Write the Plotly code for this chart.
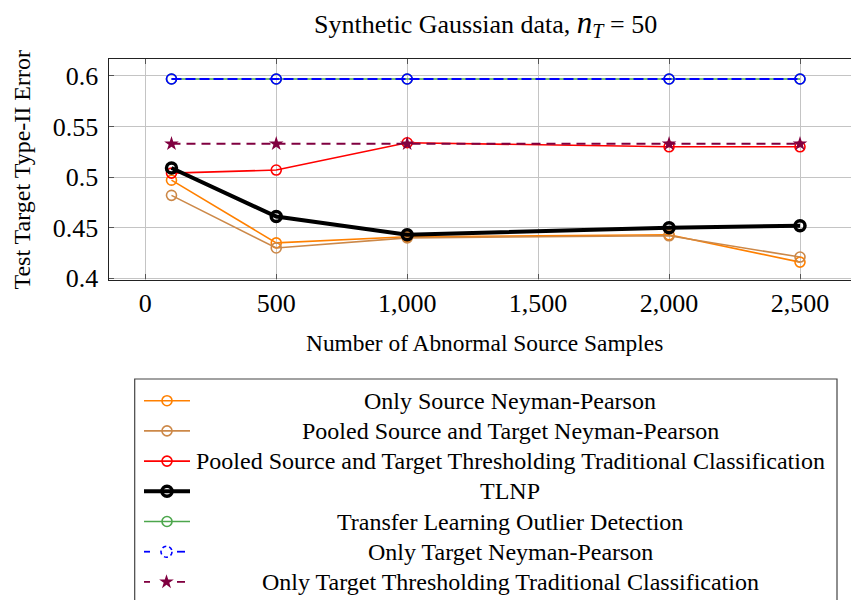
import plotly.graph_objects as go

# number of abnormal source samples
n_source = [100, 500, 1000, 2000, 2500]

only_source_np = [0.497, 0.435, 0.441, 0.443, 0.416]
pooled_np = [0.482, 0.430, 0.440, 0.442, 0.421]
pooled_thresh = [0.504, 0.507, 0.534, 0.530, 0.530]
tlnp = [0.509, 0.461, 0.443, 0.450, 0.452]
tl_outlier = [0.597, 0.597, 0.597, 0.597, 0.597]
only_target_np = [0.597, 0.597, 0.597, 0.597, 0.597]
only_target_thresh = [0.533, 0.533, 0.533, 0.533, 0.533]

names = [
    "Only Source Neyman-Pearson",
    "Pooled Source and Target Neyman-Pearson",
    "Pooled Source and Target Thresholding Traditional Classification",
    "TLNP",
    "Transfer Learning Outlier Detection",
    "Only Target Neyman-Pearson",
    "Only Target Thresholding Traditional Classification",
]

y_ticks = [0.4, 0.45, 0.5, 0.55, 0.6]
y_ticktext = ["0.4", "0.45", "0.5", "0.55", "0.6"]
x_ticks = [0, 500, 1000, 1500, 2000, 2500]

FONT = "Liberation Serif"
W, H = 859, 600
OFF = 8  # the page body margin pushes the figure 8px right and down


def px(x):
    return (x - OFF) / W


def py(y):
    return 1 - (y - OFF) / H


# style per series: color, line width, dash, marker symbol, marker size, marker line width
styles = [
    dict(color="#ff8000", width=1.6, dash="solid", symbol="circle-open", size=10, mlw=1.6),
    dict(color="#cc8848", width=1.6, dash="solid", symbol="circle-open", size=10, mlw=1.6),
    dict(color="#ff0000", width=1.6, dash="solid", symbol="circle-open", size=10, mlw=1.6),
    dict(color="#000000", width=4, dash="solid", symbol="circle-open", size=10, mlw=3.5),
    dict(color="#4ca64c", width=1.6, dash="solid", symbol="circle-open", size=10, mlw=1.6),
    dict(color="#0000ff", width=1.8, dash="10px,4px", symbol="circle-open", size=10, mlw=1.6),
    dict(color="#800040", width=1.8, dash="9px,6px", symbol="star", size=11, mlw=0),
]
series = [only_source_np, pooled_np, pooled_thresh, tlnp, tl_outlier,
          only_target_np, only_target_thresh]

fig = go.Figure()

for name, vals, st in zip(names, series, styles):
    fig.add_trace(go.Scatter(
        x=n_source, y=vals, name=name, mode="lines+markers",
        line=dict(color=st["color"], width=st["width"], dash=st["dash"]),
        marker=dict(symbol=st["symbol"], size=st["size"], color=st["color"],
                    line=dict(color=st["color"], width=st["mlw"])),
        xaxis="x", yaxis="y", showlegend=False,
    ))

# hand-made legend (centered text like pgfplots), on a hidden pixel-scaled axis
row0, row_step = 400.7, 30.2
shapes = [dict(type="rect", xref="x2", yref="y2", x0=134.7, x1=837, y0=379, y1=700,
               line=dict(color="#444444", width=1.2))]
annotations = []
for i, (name, st) in enumerate(zip(names, styles)):
    ry = row0 + i * row_step
    if st["dash"] == "solid":
        fig.add_trace(go.Scatter(
            x=[144, 190], y=[ry, ry], mode="lines",
            line=dict(color=st["color"], width=st["width"]),
            xaxis="x2", yaxis="y2", showlegend=False, hoverinfo="skip"))
        mx = 167
    else:
        fig.add_trace(go.Scatter(
            x=[144, 150, None, 177, 185], y=[ry, ry, None, ry, ry], mode="lines",
            line=dict(color=st["color"], width=st["width"]),
            xaxis="x2", yaxis="y2", showlegend=False, hoverinfo="skip"))
        mx = 166.5
    if st["symbol"] == "circle-open" and st["dash"] != "solid":
        shapes.append(dict(type="circle", xref="x2", yref="y2",
                           x0=mx - 5.5, x1=mx + 5.5, y0=ry - 5.5, y1=ry + 5.5,
                           line=dict(color=st["color"], width=1.6, dash="4px,3px")))
    else:
        fig.add_trace(go.Scatter(
            x=[mx], y=[ry], mode="markers",
            marker=dict(symbol=st["symbol"], size=st["size"], color=st["color"],
                        line=dict(color=st["color"], width=st["mlw"])),
            xaxis="x2", yaxis="y2", showlegend=False, hoverinfo="skip"))
    annotations.append(dict(xref="x2", yref="y2", x=510, y=ry, text=name,
                            showarrow=False, xanchor="center", yanchor="middle",
                            font=dict(family=FONT, size=24, color="black")))

annotations += [
    dict(xref="paper", yref="paper", x=px(486), y=py(23.3),
         text="Synthetic Gaussian data, <span style='font-size:31px'><i>n</i></span>"
              "<sub><span style='font-size:20px'><i>T</i></span></sub>&nbsp;=&nbsp;50",
         showarrow=False, xanchor="center", yanchor="middle",
         font=dict(family=FONT, size=26, color="black")),
    dict(xref="paper", yref="paper", x=px(485), y=py(343.3),
         text="Number of Abnormal Source Samples",
         showarrow=False, xanchor="center", yanchor="middle",
         font=dict(family=FONT, size=23.4, color="black")),
    dict(xref="paper", yref="paper", x=px(21.6), y=py(170),
         text="Test Target Type-II Error", textangle=-90,
         showarrow=False, xanchor="center", yanchor="middle",
         font=dict(family=FONT, size=24, color="black")),
]

# pixels per data unit on x, measured from gridlines 0 and 2500
x_scale = (800 - 145.3) / 2500
x_left_px = 108.5
x_min = -(145.3 - x_left_px) / x_scale
x_max = x_min + (W + OFF - x_left_px) / x_scale

fig.update_layout(
    width=W, height=H,
    margin=dict(l=0, r=0, t=0, b=0, pad=0, autoexpand=False),
    paper_bgcolor="white", plot_bgcolor="rgba(0,0,0,0)",
    showlegend=False,
    shapes=shapes, annotations=annotations,
    xaxis=dict(domain=[px(x_left_px), 1], range=[x_min, x_max], anchor="y",
               automargin=False,
               tickvals=x_ticks, tickformat=",d",
               showgrid=True, gridcolor="#c4c4c4", gridwidth=1, zeroline=False,
               showline=True, linecolor="#222222", linewidth=1.2, mirror="ticks",
               ticks="inside", ticklen=5, tickcolor="#555555",
               tickfont=dict(family=FONT, size=26, color="black")),
    yaxis=dict(domain=[py(279.5), py(59.3)], range=[0.3988, 0.6165], anchor="x",
               automargin=False,
               tickvals=y_ticks, ticktext=y_ticktext, ticklabelstandoff=4,
               showgrid=True, gridcolor="#c4c4c4", gridwidth=1, zeroline=False,
               showline=True, linecolor="#222222", linewidth=1.2, mirror="ticks",
               ticks="inside", ticklen=5, tickcolor="#555555",
               tickfont=dict(family=FONT, size=26, color="black")),
    xaxis2=dict(domain=[0, 1], range=[OFF, W + OFF], anchor="y2", visible=False,
                fixedrange=True, automargin=False),
    yaxis2=dict(domain=[0, py(375)], range=[H + OFF, 375], anchor="x2", visible=False,
                fixedrange=True, automargin=False),
)

fig.write_html("out.html")
